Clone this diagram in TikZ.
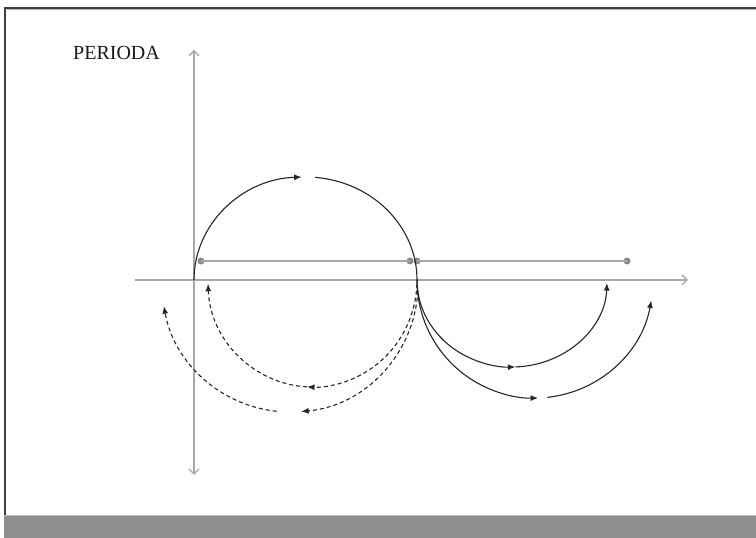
\documentclass[tikz,border=0pt]{standalone}
\usepackage{fontspec}
\setmainfont{Liberation Serif}
\usetikzlibrary{arrows.meta}
\definecolor{axisgray}{HTML}{A8A8A8}
\definecolor{dotgray}{HTML}{8A8A8A}
\definecolor{bandgray}{HTML}{8F8F8F}
\begin{document}
\begin{tikzpicture}[x=1pt,y=1pt,
  axis/.style={draw=axisgray,line width=1.4pt},
  axisarrow/.style={-{Straight Barb[length=5pt,width=10pt]}},
  gline/.style={draw=axisgray,line width=1.4pt},
  gdot/.style={circle,fill=dotgray,inner sep=0pt,minimum size=7pt},
  curve/.style={draw=black!85,line width=1.1pt},
  dcurve/.style={curve,dash pattern=on 4pt off 3pt},
  tip/.style={-{Latex[length=7.5pt,width=6pt]}}
]
\useasboundingbox (0,0) rectangle (756,538);
% frame
\fill[white] (0,0) rectangle (756,538);
\draw[black!75,line width=1.5pt] (5,22) -- (5,530) -- (756,530);
\draw[black!30,line width=1pt] (6.5,528.5) -- (756,528.5);
\fill[bandgray] (4,0) rectangle (756,22);
\draw[black!25,line width=1.2pt] (4,22.5) -- (756,22.5);
% title
\node[anchor=base west,inner sep=0pt,font=\fontsize{20}{24}\selectfont,text=black!90] (title) at (73,478) {PERIODA};
% axes
\coordinate (xl) at (135,258);
\coordinate (xr) at (688,258);
\coordinate (yt) at (194,488);
\coordinate (yb) at (194,63);
\draw[axis,axisarrow] (xl) -- (xr);
\draw[axis,{Straight Barb[length=5pt,width=10pt]}-{Straight Barb[length=5pt,width=10pt]}] (yb) -- (yt);
% gray segments with dots
\node[gdot] (d1) at (201,277) {};
\node[gdot] (d2) at (410,277) {};
\node[gdot] (d3) at (417,277) {};
\node[gdot] (d4) at (627,277) {};
\draw[gline] (d1.center) -- (d2.center);
\draw[gline] (d3.center) -- (d4.center);
% upper arc
\draw[curve,tip] (194,258) arc[start angle=180,end angle=92,x radius=111.5,y radius=103];
\draw[curve] (305.5,258) ++(85:111.5 and 103) arc[start angle=85,end angle=0,x radius=111.5,y radius=103];
% inner dashed arc (left)
\draw[dcurve,tip] (312.5,258) ++(-2:104.5 and 107) arc[start angle=-2,end angle=-93,x radius=104.5,y radius=107];
\draw[dcurve,tip] (312.5,258) ++(-93:104.5 and 107) arc[start angle=-93,end angle=-178,x radius=104.5,y radius=107];
% outer dashed arc (left)
\draw[dcurve,tip] (290,254) ++(-3:128) arc[start angle=-3,end angle=-85,radius=128];
\draw[dcurve,tip] (290,254) ++(-96:128) arc[start angle=-96,end angle=-170,radius=128];
% inner solid arc (right)
\draw[curve,tip] (417,258) arc[start angle=180,end angle=272,x radius=95,y radius=87];
\draw[curve,tip] (512,258) ++(272:95 and 87) arc[start angle=272,end angle=358,x radius=95,y radius=87];
% outer solid arc (right)
\draw[curve,tip] (417,258) arc[start angle=180,end angle=271.5,radius=118];
\draw[curve,tip] (535,258) ++(276:118) arc[start angle=276,end angle=350,radius=118];
\end{tikzpicture}
\end{document}
